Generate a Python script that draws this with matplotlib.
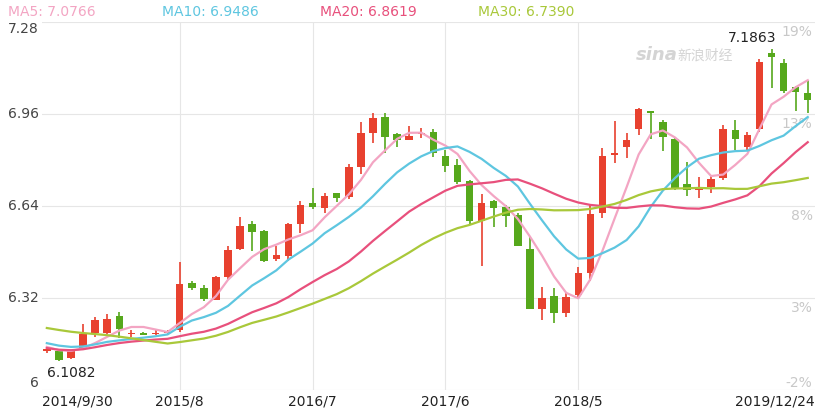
import numpy as np
import pandas as pd
import matplotlib.pyplot as plt

# monthly candles, 2014/9 .. 2019/12
opens = [6.139, 6.137, 6.110, 6.142, 6.200, 6.200, 6.257, 6.196, 6.198, 6.196,
         6.200, 6.209, 6.373, 6.356, 6.313, 6.394, 6.489, 6.577, 6.553, 6.455,
         6.466, 6.576, 6.649, 6.632, 6.684, 6.670, 6.777, 6.893, 6.951, 6.890,
         6.870, 6.891, 6.898, 6.814, 6.783, 6.727, 6.587, 6.657, 6.635, 6.609,
         6.490, 6.281, 6.327, 6.267, 6.330, 6.406, 6.615, 6.816, 6.844, 6.907,
         6.972, 6.933, 6.872, 6.715, 6.696, 6.707, 6.736, 6.904, 6.844, 6.907,
         7.172, 7.138, 7.053, 7.032]
closes = [6.139, 6.104, 6.136, 6.195, 6.243, 6.247, 6.212, 6.199, 6.195, 6.199,
          6.203, 6.369, 6.354, 6.315, 6.392, 6.487, 6.570, 6.551, 6.450, 6.470,
          6.577, 6.643, 6.638, 6.675, 6.669, 6.777, 6.893, 6.946, 6.881, 6.870,
          6.883, 6.895, 6.823, 6.779, 6.725, 6.587, 6.649, 6.632, 6.605, 6.501,
          6.281, 6.319, 6.267, 6.322, 6.406, 6.611, 6.814, 6.825, 6.870, 6.976,
          6.962, 6.881, 6.704, 6.696, 6.707, 6.733, 6.907, 6.872, 6.887, 7.140,
          7.160, 7.041, 7.038, 7.009]
highs = [6.150, 6.140, 6.115, 6.230, 6.253, 6.264, 6.271, 6.209, 6.203, 6.207,
         6.210, 6.446, 6.380, 6.365, 6.395, 6.501, 6.603, 6.589, 6.555, 6.501,
         6.580, 6.657, 6.703, 6.685, 6.686, 6.785, 6.933, 6.965, 6.962, 6.895,
         6.918, 6.911, 6.907, 6.835, 6.803, 6.730, 6.681, 6.660, 6.643, 6.615,
         6.533, 6.357, 6.355, 6.340, 6.429, 6.643, 6.841, 6.934, 6.893, 6.980,
         6.972, 6.939, 6.879, 6.794, 6.742, 6.748, 6.922, 6.939, 6.897, 7.150,
         7.1863, 7.153, 7.058, 7.078]
lows = [6.128, 6.101, 6.1082, 6.139, 6.184, 6.196, 6.181, 6.185, 6.190, 6.190,
        6.195, 6.203, 6.349, 6.311, 6.313, 6.383, 6.487, 6.485, 6.446, 6.450,
        6.450, 6.546, 6.630, 6.615, 6.654, 6.664, 6.751, 6.858, 6.826, 6.846,
        6.870, 6.877, 6.811, 6.759, 6.717, 6.578, 6.431, 6.566, 6.568, 6.501,
        6.281, 6.243, 6.234, 6.255, 6.325, 6.379, 6.597, 6.791, 6.808, 6.887,
        6.872, 6.832, 6.696, 6.675, 6.667, 6.684, 6.730, 6.835, 6.835, 6.899,
        7.050, 7.032, 6.971, 6.962]
# closes before the visible window, only used to warm up the moving averages
pre_closes = [6.31, 6.32, 6.33, 6.35, 6.36, 6.37, 6.37, 6.38, 6.38, 6.38,
              6.22, 6.17, 6.13, 6.10, 6.09, 6.08, 6.10, 6.12, 6.13, 6.15,
              6.19, 6.18, 6.18, 6.17, 6.16, 6.16, 6.15, 6.15, 6.15]

x_labels = ["2014/9/30", "2015/8", "2016/7", "2017/6", "2018/5", "2019/12/24"]
x_label_pos = [0, 11, 22, 33, 44, 63]
y_ticks = [6, 6.32, 6.64, 6.96, 7.28]
y_tick_labels = ["6", "6.32", "6.64", "6.96", "7.28"]
pct_labels = ["-2%", "3%", "8%", "13%", "19%"]
legend_texts = ["MA5: 7.0766", "MA10: 6.9486", "MA20: 6.8619", "MA30: 6.7390"]

RED = "#e8412f"
GREEN = "#56a81c"
ma_colors = {5: "#f3a5c3", 10: "#5ec6e0", 20: "#e8507c", 30: "#a9c83a"}

n = len(closes)
idx = np.arange(n)
full = pd.Series(pre_closes + closes)
mas = {w: full.rolling(w).mean().values[-n:] for w in ma_colors}

fig = plt.figure(figsize=(8.30, 4.12), dpi=100)
ax = fig.add_axes([42 / 830, 22 / 412, 773 / 830, 368 / 412])
ax.set_xlim(-0.4, n - 0.4)
ax.set_ylim(6, 7.28)

for y in y_ticks:
    ax.axhline(y, color="#e6e6e6", lw=0.8, zorder=0)
for p in x_label_pos[1:-1]:
    ax.axvline(p, color="#e6e6e6", lw=0.8, zorder=0)

for i in idx:
    up = closes[i] >= opens[i]
    c = RED if up else GREEN
    ax.vlines(i, lows[i], highs[i], color=c, lw=1.2, zorder=2)
    lo, hi = sorted([opens[i], closes[i]])
    h = max(hi - lo, 0.004)
    ax.bar(i, h, bottom=lo if hi - lo > 0.004 else lo - 0.002, width=0.62, color=c, zorder=3)

for w, col in ma_colors.items():
    ax.plot(idx, mas[w], color=col, lw=1.6, zorder=4)

for s in ax.spines.values():
    s.set_visible(False)
ax.set_xticks([])
ax.set_yticks([])

# left price labels
for y, t in zip(y_ticks, y_tick_labels):
    va = "center"
    if y == y_ticks[0]:
        va = "bottom"
    elif y == y_ticks[-1]:
        va = "top"
    ax.text(-0.65, y, t, ha="right", va=va, fontsize=10, color="#444444", clip_on=False)

# right percent labels
for y, t in zip(y_ticks, pct_labels):
    va = "bottom" if y == y_ticks[0] else "top"
    ax.text(n - 0.6, y - (0 if va == "bottom" else 0.01), t, ha="right", va=va,
            fontsize=10, color="#c8c8c8")

for p, t in zip(x_label_pos, x_labels):
    ha = "center"
    xp = p
    if p == 0:
        ha, xp = "left", -0.4
    elif p == n - 1:
        ha, xp = "right", n - 0.4
    ax.text(xp, 5.985, t, ha=ha, va="top", fontsize=10, color="#222222", clip_on=False)

ax.text(2, 6.085, "6.1082", ha="center", va="top", fontsize=10, color="#222222")
ax.text(58.4, 7.20, "7.1863", ha="center", va="bottom", fontsize=10, color="#222222")
ax.text(50.5, 7.165, "sina", ha="center", va="center", fontsize=13, weight="bold",
        color="#d4d4d4", style="italic")
ax.text(52.2, 7.165, "新浪财经", ha="left", va="center", fontsize=10,
        color="#d4d4d4", family=["Noto Sans CJK SC", "DejaVu Sans"], style="italic")

legend_x = [8, 162, 320, 478]
for (w, col), lx, t in zip(ma_colors.items(), legend_x, legend_texts):
    fig.text(lx / 830, 1 - 12 / 412, t, color=col, fontsize=10, va="center", ha="left")

fig.savefig("out.png", dpi=100)
